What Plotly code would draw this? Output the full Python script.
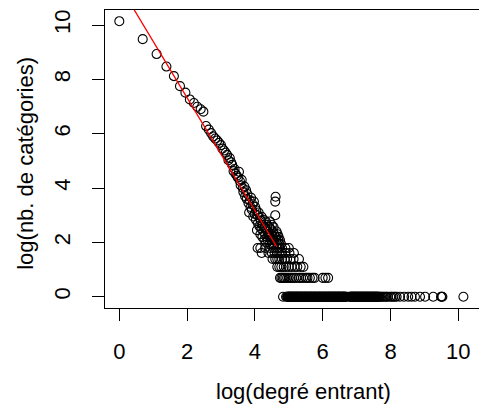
import plotly.graph_objects as go

# ---- data (log scale values) ----
# head of the distribution (one point per in-degree)
head_x = [0.0, 0.69, 1.10, 1.39, 1.61, 1.79, 1.95, 2.08, 2.20, 2.30, 2.40, 2.48]
head_y = [10.14, 9.48, 8.93, 8.47, 8.12, 7.75, 7.51, 7.26, 7.13, 6.99, 6.90, 6.81]

# main body of the cloud
body_x = [2.56, 2.64, 2.71, 2.77, 2.83, 2.89, 2.94, 3.00, 3.04, 3.09, 3.14, 3.18,
          3.22, 3.26, 3.30, 3.33, 3.37, 3.40, 3.43, 3.47, 3.50, 3.53, 3.56, 3.58,
          3.61, 3.64, 3.66, 3.69, 3.71, 3.74, 3.76, 3.78, 3.81, 3.83, 3.85, 3.87,
          3.89, 3.91, 3.93, 3.95, 3.97, 3.99, 4.01, 4.03, 4.04, 4.06, 4.08, 4.09,
          4.11, 4.13, 4.14, 4.16, 4.17, 4.19, 4.20, 4.22, 4.23, 4.25, 4.26, 4.28,
          4.29, 4.30, 4.32, 4.33, 4.34, 4.36, 4.37, 4.38, 4.39, 4.41, 4.42, 4.43,
          4.44, 4.45, 4.47, 4.48, 4.49, 4.50, 4.51, 4.53, 4.54, 4.55, 4.56, 4.57,
          4.58, 4.60, 4.60, 4.61, 4.62, 4.63, 4.64, 4.66, 4.67, 4.69, 4.70, 4.72,
          4.74, 4.77]
body_y = [6.28, 6.15, 6.02, 5.90, 5.82, 5.75, 5.66, 5.58, 5.45, 5.38, 5.30, 5.22,
          5.02, 5.10, 4.95, 4.85, 4.62, 4.70, 4.52, 4.45, 4.38, 4.60, 4.25, 4.10,
          4.30, 4.00, 3.85, 4.05, 3.70, 3.92, 3.60, 3.78, 3.45, 3.10, 3.55, 3.30,
          3.64, 3.20, 3.40, 2.95, 3.50, 3.05, 3.30, 2.83, 3.18, 2.45, 3.00, 2.70,
          3.10, 2.60, 2.90, 2.30, 2.80, 2.50, 2.94, 2.20, 2.64, 2.40, 2.83, 2.10,
          2.56, 2.30, 2.77, 2.00, 2.48, 2.20, 2.64, 2.08, 2.40, 2.30, 2.56, 1.95,
          2.77, 2.20, 2.48, 2.08, 2.30, 2.64, 1.95, 2.40, 2.20, 2.56, 2.08, 2.30,
          1.95, 3.00, 3.50, 3.68, 2.20, 2.08, 2.40, 1.95, 2.30, 2.08, 2.20, 1.95,
          2.08, 1.95]

# rows of small counts: x positions for log(count) = log(6) .. log(1)
row6_x = [4.08, 4.16, 4.30, 4.45, 4.55, 4.65, 4.72, 4.80, 4.90, 5.00]
row5_x = [4.20, 4.40, 4.50, 4.58, 4.65, 4.72, 4.80, 4.90, 5.02, 5.15]
row4_x = [4.52, 4.60, 4.66, 4.72, 4.80, 4.88, 4.95, 5.05, 5.14, 5.30]
row3_x = [4.66, 4.72, 4.78, 4.85, 4.92, 5.00, 5.08, 5.17, 5.25, 5.35, 5.43]
row2_x = [4.74, 4.78, 4.82, 4.86, 4.90, 4.95, 5.00, 5.05, 5.10, 5.16, 5.22, 5.30,
          5.36, 5.42, 5.50, 5.55, 5.62, 5.70, 5.76, 6.00, 6.08, 6.16]
row1_x = [4.83, 4.92, 4.95, 4.98, 5.01, 5.03, 5.06, 5.09, 5.12, 5.14, 5.17, 5.20,
          5.23, 5.25, 5.28, 5.31, 5.34, 5.36, 5.39, 5.42, 5.45, 5.48, 5.50, 5.53,
          5.56, 5.59, 5.62, 5.64, 5.67, 5.70, 5.73, 5.76, 5.78, 5.81, 5.84, 5.87,
          5.90, 5.92, 5.95, 5.98, 6.01, 6.04, 6.06, 6.09, 6.12, 6.15, 6.18, 6.20,
          6.23, 6.26, 6.29, 6.32, 6.34, 6.37, 6.40, 6.43, 6.46, 6.48, 6.51, 6.54,
          6.57, 6.60, 6.62, 6.65, 6.68, 6.80, 6.83, 6.86, 6.89, 6.92, 6.95, 6.98,
          7.01, 7.04, 7.07, 7.10, 7.13, 7.16, 7.19, 7.22, 7.25, 7.28, 7.31, 7.34,
          7.37, 7.40, 7.43, 7.46, 7.49, 7.52, 7.55, 7.58, 7.61, 7.64, 7.69, 7.76,
          7.84, 7.92, 7.99, 8.08, 8.18, 8.28, 8.40, 8.52, 8.62, 8.72, 8.87, 9.02,
          9.26, 9.49, 9.51, 9.53, 10.15]
# further count-1 degrees packed inside the dense band
row1_extra_x = [4.965, 4.995, 5.02, 5.045, 5.075, 5.105, 5.13, 5.155, 5.185, 5.215,
                5.24, 5.265, 5.295, 5.325, 5.35, 5.375, 5.405, 5.435, 5.465, 5.49,
                5.515, 5.545, 5.575, 5.605, 5.63, 5.655, 5.685, 5.715, 5.745, 5.77,
                5.795, 5.825, 5.855, 5.885, 5.91, 5.935, 5.965, 5.995, 6.025, 6.05,
                6.075, 6.105, 6.135, 6.165, 6.19, 6.215, 6.245, 6.275, 6.305, 6.33,
                6.355, 6.385, 6.415, 6.445, 6.47, 6.495, 6.525, 6.555, 6.585, 6.61,
                6.635, 6.665, 6.72, 6.815, 6.845, 6.875, 6.905, 6.935, 6.965, 6.995,
                7.025, 7.055, 7.085, 7.115, 7.145, 7.175, 7.205, 7.235, 7.265, 7.295,
                7.325, 7.355, 7.385, 7.415, 7.445, 7.475, 7.505, 7.535, 7.565, 7.595,
                7.625, 7.66, 7.72, 7.80, 7.88, 8.03, 8.13]
row_levels = [1.792, 1.609, 1.386, 1.099, 0.693, 0.0, 0.0]

# fitted line (intercept, slope, x-extent)
fit_intercept = 11.47
fit_slope = -2.075
fit_x = [0.0, 4.64]

x_ticks = [0, 2, 4, 6, 8, 10]
y_ticks = [0, 2, 4, 6, 8, 10]

# ---- assemble ----
rows = [row6_x, row5_x, row4_x, row3_x, row2_x, row1_x, row1_extra_x]
all_x = head_x + body_x
all_y = head_y + body_y
for lvl, xs in zip(row_levels, rows):
    all_x += xs
    all_y += [lvl] * len(xs)

fit_y = [fit_intercept + fit_slope * v for v in fit_x]

FONT = "Liberation Sans, Arial, Helvetica, sans-serif"
FS = 22

fig = go.Figure()
fig.add_trace(go.Scatter(
    x=all_x, y=all_y, mode="markers",
    marker=dict(symbol="circle-open", size=9, color="black",
                line=dict(width=1.1, color="black")),
    hoverinfo="skip", showlegend=False,
))
fig.add_trace(go.Scatter(
    x=fit_x, y=fit_y, mode="lines",
    line=dict(color="#FF0000", width=1.3),
    hoverinfo="skip", showlegend=False,
))

fig.update_layout(
    width=479, height=407,
    margin=dict(l=105, r=0, t=10, b=99),
    paper_bgcolor="white", plot_bgcolor="white",
    font=dict(family=FONT, size=FS, color="black"),
    xaxis=dict(range=[-0.422, 10.61], tickvals=x_ticks, ticktext=[str(v) for v in x_ticks],
               showgrid=False, zeroline=False, showline=True, mirror=True,
               linecolor="black", linewidth=1, ticks="outside", ticklen=12,
               tickwidth=1, tickcolor="black", ticklabelstandoff=12,
               tickfont=dict(family=FONT, size=FS, color="black")),
    yaxis=dict(range=[-0.416, 10.552], tickvals=y_ticks, ticktext=[str(v) for v in y_ticks],
               showgrid=False, zeroline=False, showline=True, mirror=False,
               linecolor="black", linewidth=1, ticks="outside", ticklen=12,
               tickwidth=1, tickcolor="black", tickangle=-90, ticklabelstandoff=13,
               tickfont=dict(family=FONT, size=FS, color="black")),
    annotations=[
        dict(text="log(degré entrant)", xref="paper", yref="paper",
             x=0.53, y=-0.28, xanchor="center", yanchor="middle",
             showarrow=False, font=dict(family=FONT, size=FS, color="black")),
        dict(text="log(nb. de catégories)", xref="paper", yref="paper",
             x=-0.213, y=0.485, xanchor="center", yanchor="middle", textangle=-90,
             showarrow=False, font=dict(family=FONT, size=FS, color="black")),
    ],
)

fig.write_html("out.html", config={"displayModeBar": False},
               post_script="document.body.style.margin='0px';document.body.style.padding='0px';document.body.style.overflow='hidden';")
